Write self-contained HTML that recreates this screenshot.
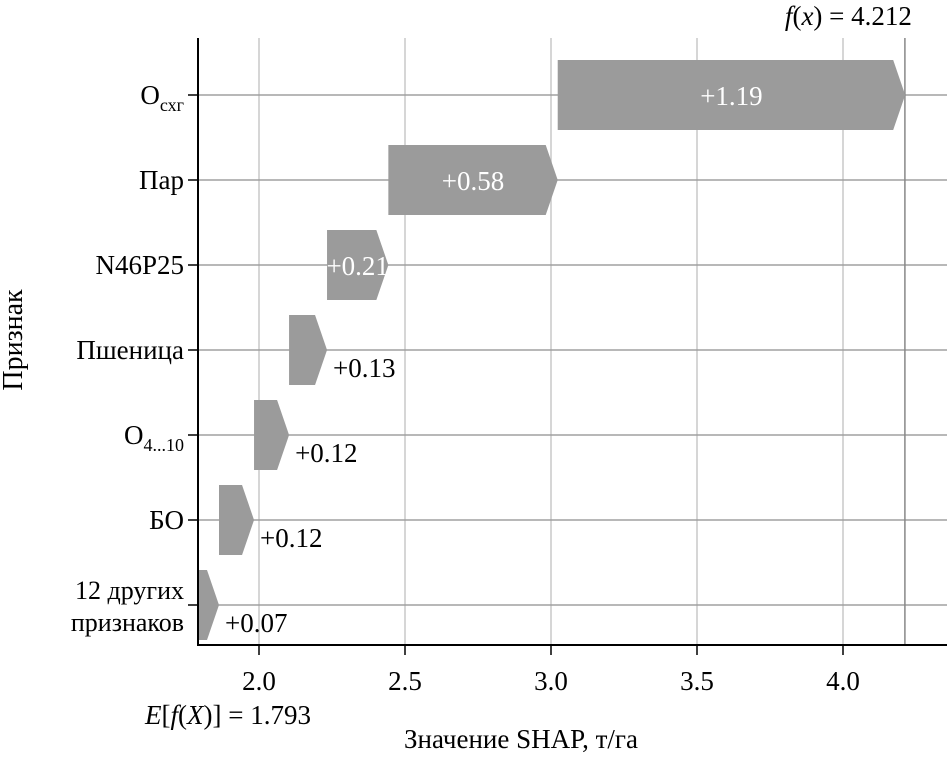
<!DOCTYPE html>
<html><head><meta charset="utf-8"><style>
body{margin:0;background:#fff}
svg text{font-family:"Liberation Serif",serif;}
</style></head><body>
<svg id="c" width="947" height="755" xmlns="http://www.w3.org/2000/svg">
<g id="g"></g>
</svg>
<script>
const features=["O<tspan font-size='18' dy='7'>схг</tspan>","Пар","N46P25","Пшеница","O<tspan font-size='18' dy='7'>4...10</tspan>","БО","12 других|признаков"];
const contributions=[1.19,0.58,0.21,0.13,0.12,0.12,0.07];
const baseValue=1.793;
const finalValue=4.212;
const xTicks=[2.0,2.5,3.0,3.5,4.0];
const NS="http://www.w3.org/2000/svg";
const g=document.getElementById('g');
const x=v=>259+(v-2)*292;
const yRow=i=>95+i*85;
const FS=27;
function el(t,a,p){const e=document.createElementNS(NS,t);for(const k in a)e.setAttribute(k,a[k]);(p||g).appendChild(e);return e;}
xTicks.forEach(t=>{const l=el('line',{x1:x(t),x2:x(t),y1:38,y2:645,stroke:'#c8c8c8','stroke-width':1.5});

el('line',{x1:x(t),x2:x(t),y1:645,y2:655,stroke:'#000','stroke-width':1.5});
const tx=el('text',{x:x(t),y:690,'text-anchor':'middle','font-size':FS});tx.textContent=t.toFixed(1);
});
features.forEach((f,i)=>{const l=el('line',{x1:198,x2:947,y1:yRow(i),y2:yRow(i),stroke:'#a0a0a0','stroke-width':1.5});

el('line',{x1:188,x2:198,y1:yRow(i),y2:yRow(i),stroke:'#000','stroke-width':1.5});});
const fl=el('line',{x1:x(finalValue),x2:x(finalValue),y1:38,y2:645,stroke:'#888','stroke-width':1.5});

let cum=baseValue;const starts=[];
for(let i=contributions.length-1;i>=0;i--){starts[i]=cum;cum+=contributions[i];}
features.forEach((f,i)=>{
 const s=starts[i],e=s+contributions[i],x0=x(s),x1=x(e),yc=yRow(i),h=35;
 const tip=Math.min(12,(x1-x0)*0.6);
 const p=el('path',{d:`M${x0},${yc-h}L${x1-tip},${yc-h}L${x1},${yc}L${x1-tip},${yc+h}L${x0},${yc+h}Z`,fill:'#9b9b9b'});
 
 const lbl='+'+contributions[i].toFixed(2);
 let t;
 if(x1-x0>50){t=el('text',{x:(x0+x1)/2,y:yc+10,'text-anchor':'middle','font-size':FS,fill:'#fff'});}
 else{t=el('text',{x:x1+6,y:yc+27,'font-size':FS,fill:'#000'});}
 t.textContent=lbl;
 
 const parts=f.split('|');
 if(parts.length>1){parts.forEach((pp,j)=>{const yl=el('text',{x:184,y:yc-6+j*32,'text-anchor':'end','font-size':FS-1});yl.textContent=pp;
  });}
 else{const yl=el('text',{x:184,y:yc+9,'text-anchor':'end','font-size':FS});yl.innerHTML=f;
  }
});
const ax=el('path',{d:'M198,38L198,645L947,645',fill:'none',stroke:'#000','stroke-width':2});

let t=el('text',{x:x(finalValue)+7,y:25,'text-anchor':'end','font-size':FS});
t.innerHTML="<tspan font-style='italic'>f</tspan>(<tspan font-style='italic'>x</tspan>) = "+finalValue.toFixed(3);

t=el('text',{x:145,y:724,'font-size':FS});
t.innerHTML="<tspan font-style='italic'>E</tspan>[<tspan font-style='italic'>f</tspan>(<tspan font-style='italic'>X</tspan>)] = "+baseValue.toFixed(3);

t=el('text',{x:521,y:748,'text-anchor':'middle','font-size':FS});t.textContent='Значение SHAP, т/га';

t=el('text',{x:22,y:340,'text-anchor':'middle','font-size':28,transform:'rotate(-90 22 340)'});t.textContent='Признак';

</script>
</body></html>
